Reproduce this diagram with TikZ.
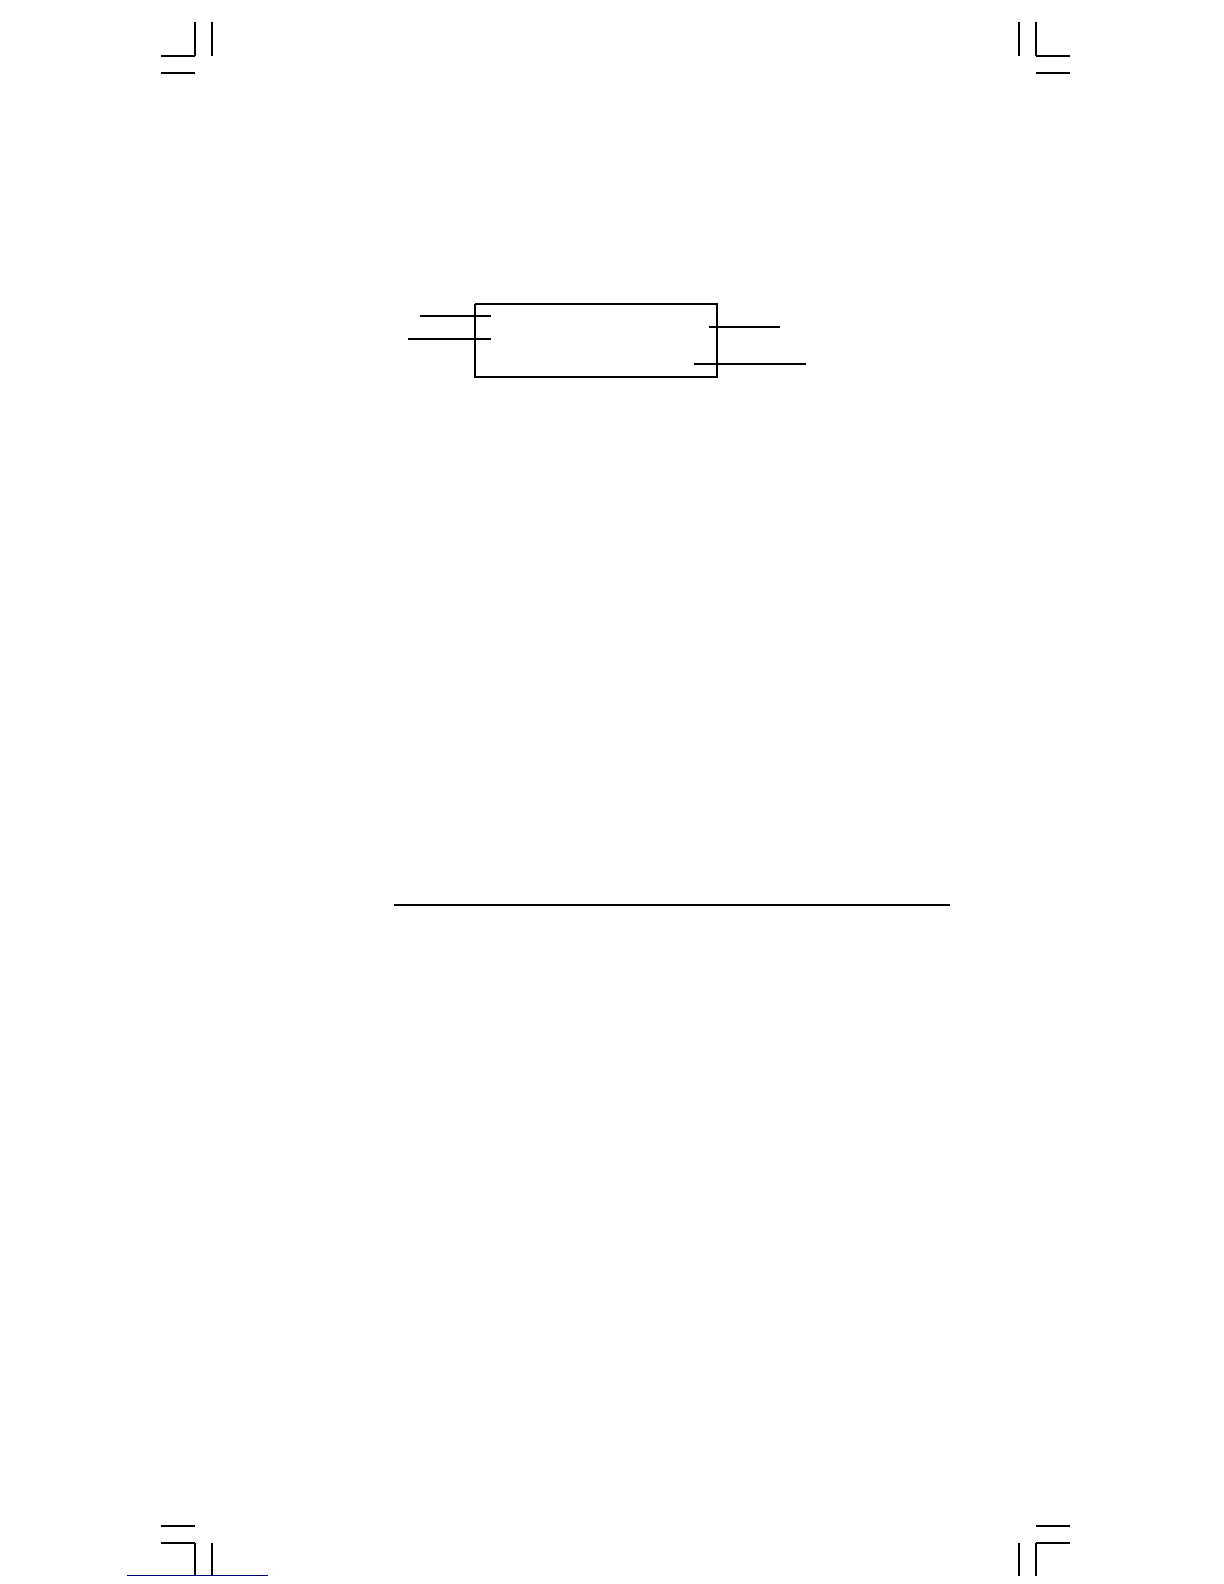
\documentclass[tikz,border=0pt]{standalone}
\usepackage{pgf,tikz,xcolor}
\usetikzlibrary{calc,positioning}

\begin{document}
\begin{tikzpicture}[x=0.5pt, y=-0.5pt, line width=0.6pt]

        \useasboundingbox (0,0) rectangle (1224,1584);

        % crop marks, top
        \foreach \v in {195,212,1019,1036}
            \draw (\v,22) -- (\v,56);
        \foreach \h in {56,73}
            \draw (161,\h) -- (195,\h);
        \foreach \h in {56,73}
            \draw (1036,\h) -- (1070,\h);

        % crop marks, bottom
        \foreach \v in {195,212,1019,1036}
            \draw (\v,1543) -- (\v,1576);
        \foreach \h in {1526,1543}
            \draw (161,\h) -- (195,\h);
        \foreach \h in {1526,1543}
            \draw (1036,\h) -- (1070,\h);

        % display box
        \draw (475,304) -- (717,304) -- (717,377) -- (475,377) -- (475,304);

        % leader lines
        \draw (420,316) -- (491,316);
        \draw (408,339) -- (491,339);
        \draw (709,327) -- (780,327);
        \draw (694,364) -- (806,364);

        % rule
        \draw[line width=1.3pt] (394,905) -- (950,905);

        % link underline
        \draw[line width=0.5pt, color=blue!50!black] (127,1575) -- (268,1575);

\end{tikzpicture}
\end{document}
